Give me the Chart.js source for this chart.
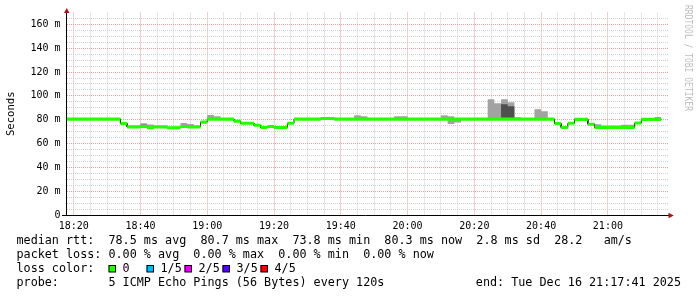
<!DOCTYPE html>
<html>
<head>
<meta charset="utf-8">
<script src="https://cdn.jsdelivr.net/npm/chart.js@4.4.0/dist/chart.umd.min.js"></script>
<style>
  html, body { margin: 0; padding: 0; background: #fff; }
  canvas { display: block; }
</style>
</head>
<body>
<canvas id="chart" width="697" height="297"></canvas>
<script>
// time axis in minutes since midnight
var firstStep = 18 * 60 + 18;   // 18:18, start of first 2 min step
var stepMin = 2;
var viewStart = 18 * 60 + 18;
var viewEnd = 21 * 60 + 18;

// median rtt per step (ms)
var median = [
  80.5, 80.5, 80.5, 80.5, 80.5, 80.5, 80.5, 80.5,
  76.8, 74, 74, 74.3, 73.3, 74, 74, 73.3, 73.3, 74.3, 74, 74, 78,
  80.5, 80.5, 80.5, 80.5,
  78.7, 77, 77, 75.3, 73.5, 74.3, 73.5, 73.5, 77,
  80.5, 80.5, 80.5, 80.5, 81, 81,
  80.5, 80.5, 80.5, 80.5, 80.5, 80.5, 80.5, 80.5, 80.5, 80.5, 80.5,
  80.5, 80.5, 80.5, 80.5, 80.5, 80.5, 80.5, 80.5, 80.5, 80.5, 80.5,
  80.5, 80.5, 80.5, 80.5, 80.5, 80.5, 80.5, 80.5, 80.5, 80.5, 80.5,
  76.8, 73.4, 77, 80.3, 80.3, 76.2,
  73.4, 73.4, 73.4, 73.4, 73.4, 73.4,
  77.2, 80.3, 80.3, 80.3
];

// smoke (ping spread), null = hidden under the median band
var smokeHi = [];
var smokeLo = [];
var darkHi = [];
for (var i = 0; i < median.length; i++) { smokeHi.push(null); smokeLo.push(null); darkHi.push(null); }
// index = step number - 1
smokeHi[11] = 77;   darkHi[11] = 75.8;
smokeHi[12] = 76;
smokeHi[17] = 77.3;
smokeHi[18] = 76.5;
smokeHi[21] = 84;
smokeHi[22] = 83;
smokeHi[43] = 83.7;
smokeHi[44] = 83;
smokeHi[49] = 83;
smokeHi[50] = 83;
smokeHi[56] = 83.7;
smokeHi[57] = 83;   smokeLo[57] = 76.5;
smokeLo[58] = 77.6;
smokeHi[63] = 97.2;
smokeHi[64] = 93.8;
smokeHi[65] = 97.2; darkHi[65] = 93;
smokeHi[66] = 94.6; darkHi[66] = 91.3;
smokeHi[67] = 82;
smokeHi[70] = 88.8;
smokeHi[71] = 87.1;
smokeHi[79] = 76.2;
smokeHi[80] = 75.2;
smokeHi[81] = 75.2;
smokeHi[82] = 75.2;
smokeHi[83] = 75.7;
smokeHi[84] = 75.7;
smokeHi[88] = 82.3;

var lossLabels = ['0', '1/5', '2/5', '3/5', '4/5'];
var lossColors = ['#26ff00', '#00b8ff', '#dd00ff', '#5500ff', '#ff0000'];

var legendLines = [
  'median rtt:  78.5 ms avg  80.7 ms max  73.8 ms min  80.3 ms now  2.8 ms sd  28.2   am/s',
  'packet loss: 0.00 % avg  0.00 % max  0.00 % min  0.00 % now',
  'loss color:',
  'probe:       5 ICMP Echo Pings (56 Bytes) every 120s'
];
var endText = 'end: Tue Dec 16 21:17:41 2025';
var watermark = 'RRDTOOL / TOBI OETIKER';

var bandHalf = 1.3;

function steps(values) {
  var pts = [];
  values.forEach(function (v, i) {
    pts.push({ x: firstStep + i * stepMin, y: v });
    pts.push({ x: firstStep + (i + 1) * stepMin, y: v });
  });
  return pts;
}

function hhmm(m) {
  var h = Math.floor(m / 60), mm = m % 60;
  return (h < 10 ? '0' : '') + h + ':' + (mm < 10 ? '0' : '') + mm;
}

var mono = "'DejaVu Sans Mono', monospace";
Chart.defaults.font.family = mono;
Chart.defaults.color = '#000';

var decor = {
  id: 'decor',
  afterDraw: function (chart) {
    var ctx = chart.ctx;
    ctx.save();
    // axes
    ctx.strokeStyle = '#000';
    ctx.lineWidth = 1;
    ctx.beginPath();
    ctx.moveTo(66.5, 10);
    ctx.lineTo(66.5, 216);
    ctx.moveTo(62, 215.5);
    ctx.lineTo(669, 215.5);
    ctx.stroke();
    ctx.fillStyle = '#a01818';
    ctx.beginPath();
    ctx.moveTo(64, 13); ctx.lineTo(69.5, 13); ctx.lineTo(66.7, 8);
    ctx.closePath(); ctx.fill();
    ctx.beginPath();
    ctx.moveTo(668.5, 212.8); ctx.lineTo(668.5, 218.3); ctx.lineTo(673.8, 215.5);
    ctx.closePath(); ctx.fill();

    // legend text
    ctx.fillStyle = '#000';
    ctx.font = '11.75px ' + mono;
    ctx.textBaseline = 'middle';
    ctx.textAlign = 'left';
    var ys = [240.8, 255, 268.8, 283];
    legendLines.forEach(function (t, i) { ctx.fillText(t, 16.5, ys[i]); });
    ctx.textAlign = 'right';
    ctx.fillText(endText, 681, ys[3]);
    ctx.textAlign = 'left';
    lossLabels.forEach(function (lab, i) {
      var bx = 108.5 + i * 38;
      ctx.fillStyle = lossColors[i];
      ctx.fillRect(bx, 265, 7, 7);
      ctx.strokeStyle = '#000';
      ctx.strokeRect(bx + 0.5, 265.5, 6.5, 6.5);
      ctx.fillStyle = '#000';
      ctx.fillText(lab, bx + 14, ys[2]);
    });

    // watermark
    ctx.translate(688, 5);
    ctx.rotate(Math.PI / 2);
    ctx.scale(0.8, 1);
    ctx.fillStyle = '#bdbdbd';
    ctx.font = '10px ' + mono;
    ctx.textBaseline = 'middle';
    ctx.fillText(watermark, 0, 0);
    ctx.restore();
  }
};

var pick = function (arr) { return arr.map(function (v, i) { return v == null ? median[i] : v; }); };

var ctx = document.getElementById('chart').getContext('2d');
var chart = new Chart(ctx, {
  type: 'line',
  data: {
    datasets: [
      { data: steps(median.map(function (v) { return v + bandHalf; })), borderWidth: 0, backgroundColor: '#26ff00', fill: '+1' },
      { data: steps(median.map(function (v) { return v - bandHalf; })), borderWidth: 0, fill: false },
      { data: steps(median), borderWidth: 1, borderColor: '#202020', fill: false },
      { data: steps(pick(darkHi)), borderWidth: 0, backgroundColor: '#4f4f4f', fill: '+1' },
      { data: steps(median), borderWidth: 0, fill: false },
      { data: steps(pick(smokeHi)), borderWidth: 0, backgroundColor: '#a2a2a2', fill: '+1' },
      { data: steps(pick(smokeLo)), borderWidth: 0, fill: false }
    ]
  },
  options: {
    responsive: false,
    animation: false,
    devicePixelRatio: 1,
    layout: { padding: { left: 0, right: 29, top: 12, bottom: 60 } },
    elements: { point: { radius: 0 }, line: { tension: 0 } },
    plugins: { legend: { display: false }, tooltip: { enabled: false } },
    scales: {
      x: {
        type: 'linear',
        min: viewStart,
        max: viewEnd,
        afterBuildTicks: function (s) {
          var t = [];
          for (var m = 1100; m <= viewEnd; m += 5) t.push({ value: m });
          s.ticks = t;
        },
        afterFit: function (s) { s.height = 22; },
        grid: {
          drawTicks: false,
          tickLength: 0,
          color: function (c) { return c.tick && c.tick.value % 20 === 0 ? '#e8a0a0' : '#d0d0d0'; }
        },
        border: { display: false, dash: [1, 1] },
        ticks: {
          autoSkip: false,
          maxRotation: 0,
          padding: 5,
          font: { size: 10 },
          callback: function (v) { return v % 20 === 0 ? hhmm(v) : ''; }
        }
      },
      y: {
        min: 0,
        max: 170,
        afterBuildTicks: function (s) {
          var t = [];
          for (var v = 0; v <= 170; v += 5) t.push({ value: v });
          s.ticks = t;
        },
        afterFit: function (s) { s.width = 67; },
        grid: {
          drawTicks: false,
          tickLength: 0,
          color: function (c) {
            if (!c.tick || c.tick.value === 170) return 'rgba(0,0,0,0)';
            return c.tick.value % 20 === 0 ? '#e8a0a0' : '#d0d0d0';
          }
        },
        border: { display: false, dash: [1, 1] },
        title: { display: true, text: 'Seconds', font: { size: 10.6 }, padding: { top: 4.6, bottom: 0 } },
        ticks: {
          autoSkip: false,
          padding: 6.5,
          font: { size: 10 },
          callback: function (v) { return v % 20 === 0 ? (v === 0 ? '0' : v + ' m') : ''; }
        }
      }
    }
  },
  plugins: [decor]
});
</script>
</body>
</html>
